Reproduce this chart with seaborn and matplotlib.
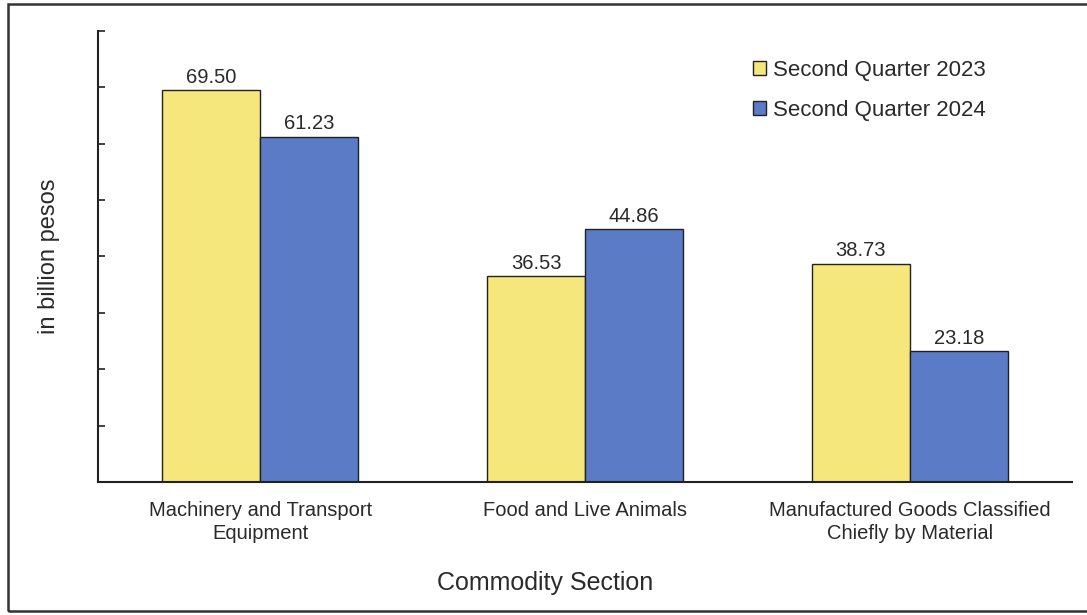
import matplotlib
matplotlib.use("Agg")
import matplotlib.pyplot as plt
import seaborn as sns
import pandas as pd
from matplotlib.patches import Rectangle

# Top commodity sections, values in billion pesos
categories = ["Machinery and Transport\nEquipment", "Food and Live Animals",
              "Manufactured Goods Classified\nChiefly by Material"]
q2_2023 = [69.50, 36.53, 38.73]
q2_2024 = [61.23, 44.86, 23.18]
series_names = ["Second Quarter 2023", "Second Quarter 2024"]
colors = ["#F5E77C", "#5B7BC7"]

df = pd.DataFrame({
    "section": categories * 2,
    "value": q2_2023 + q2_2024,
    "period": [series_names[0]] * 3 + [series_names[1]] * 3,
})

sns.set_theme(style="white")
plt.rcParams["font.family"] = ["Liberation Sans", "DejaVu Sans"]

fig = plt.figure(figsize=(10.87, 6.15), dpi=100)
ax = fig.add_axes([0.0902, 0.2163, 0.8960, 0.7333])

sns.barplot(data=df, x="section", y="value", hue="period", order=categories,
            hue_order=series_names, palette=colors, width=0.604, dodge=True,
            edgecolor="#222222", linewidth=1.0, saturation=1, ax=ax)

for cont in ax.containers:
    ax.bar_label(cont, labels=[f"{v:.2f}" for v in cont.datavalues],
                 padding=2.5, fontsize=14.5, color="#2a2a2a")

ax.set_xlim(-0.5, 2.5)
ax.set_ylim(0, 80)
ax.set_yticks(range(0, 81, 10))
ax.set_yticklabels([])
ax.tick_params(axis="y", direction="in", length=5, width=1.2, color="#222222", left=True)
ax.tick_params(axis="x", length=0, pad=14, labelsize=14.5, labelcolor="#2a2a2a")
for lbl in ax.get_xticklabels():
    lbl.set_linespacing(1.25)

for side in ["top", "right"]:
    ax.spines[side].set_visible(False)
for side in ["left", "bottom"]:
    ax.spines[side].set_color("#222222")
    ax.spines[side].set_linewidth(1.5)

ax.set_xlabel("Commodity Section", fontsize=18, color="#2a2a2a")
ax.xaxis.set_label_coords(0.459, -0.197)
ax.set_ylabel("in billion pesos", fontsize=17, color="#2a2a2a", labelpad=24)

leg = ax.legend(loc="upper left", bbox_to_anchor=(0.652, 0.98), frameon=False,
                fontsize=16, handlelength=0.6, handleheight=0.6,
                handletextpad=0.3, labelspacing=0.85, labelcolor="#2a2a2a")
for h in leg.legend_handles:
    h.set_edgecolor("#222222")
    h.set_linewidth(1.0)

# Outer frame around the figure
fig.patches.append(Rectangle((0.0075, 0.006), 1.1, 0.988, transform=fig.transFigure,
                             fill=False, edgecolor="#333333", linewidth=1.8))

fig.savefig("out.png", dpi=100)
